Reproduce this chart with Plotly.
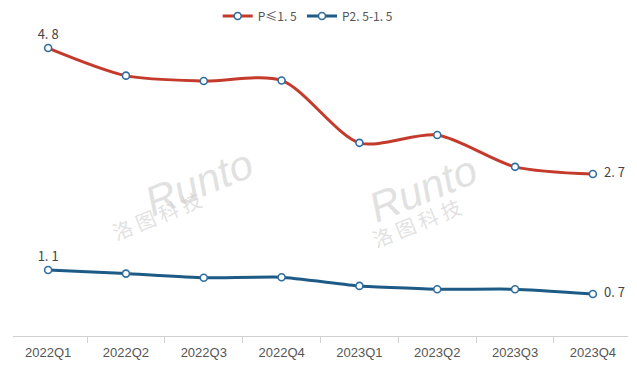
import plotly.graph_objects as go

categories = ["2022Q1", "2022Q2", "2022Q3", "2022Q4", "2023Q1", "2023Q2", "2023Q3", "2023Q4"]
series_a_name = "P≤1. 5"
series_a = [4.8, 4.34, 4.25, 4.26, 3.22, 3.35, 2.82, 2.7]
series_b_name = "P2. 5-1. 5"
series_b = [1.1, 1.04, 0.97, 0.98, 0.835, 0.78, 0.78, 0.7]

def end_labels(vals):
    out = []
    for i, v in enumerate(vals):
        s = f"{v:.1f}".replace(".", ". ")
        if i == 0:
            out.append(s)
        elif i == len(vals) - 1:
            out.append("  " + s)
        else:
            out.append("")
    return out

def positions(vals):
    return ["top center" if i == 0 else "middle right" for i in range(len(vals))]

marker_line = "#2f6d9e"
fig = go.Figure()
fig.add_trace(go.Scatter(
    x=categories, y=series_a, name=series_a_name, mode="lines+markers+text",
    line=dict(color="#c43b2c", width=3, shape="spline", smoothing=0.8),
    marker=dict(size=7, color="white", line=dict(color=marker_line, width=1.6)),
    text=end_labels(series_a), textposition=positions(series_a),
    textfont=dict(size=13, color="#444", family="Noto Sans CJK SC"),
    cliponaxis=False,
))
fig.add_trace(go.Scatter(
    x=categories, y=series_b, name=series_b_name, mode="lines+markers+text",
    line=dict(color="#1d5a86", width=3, shape="spline", smoothing=0.4),
    marker=dict(size=7, color="white", line=dict(color=marker_line, width=1.6)),
    text=end_labels(series_b), textposition=positions(series_b),
    textfont=dict(size=13, color="#444", family="Noto Sans CJK SC"),
    cliponaxis=False,
))

# watermarks
wm = "rgba(205,205,205,0.6)"
for (rx, ry, cx, cy) in [(0.2, 0.51, 0.15, 0.29), (0.77, 0.49, 0.74, 0.265)]:
    fig.add_annotation(xref="paper", yref="paper", x=rx, y=ry, text="<i>Runto</i>",
                       showarrow=False, textangle=-22,
                       font=dict(size=42, color=wm, family="Liberation Sans"))
    fig.add_annotation(xref="paper", yref="paper", x=cx, y=cy, text="洛 图 科 技",
                       showarrow=False, textangle=-22,
                       font=dict(size=20, color=wm, family="Noto Sans CJK SC"))

fig.update_layout(
    width=637, height=367,
    margin=dict(l=5, r=17, t=26, b=39),
    paper_bgcolor="white", plot_bgcolor="white",
    showlegend=True,
    legend=dict(orientation="h", x=0.48, xanchor="center",
                yref="container", y=0.978, yanchor="middle",
                font=dict(size=12, color="#555", family="Noto Sans CJK SC"),
                itemwidth=30, bgcolor="rgba(0,0,0,0)"),
    xaxis=dict(type="category", showgrid=False, showline=True, linecolor="#d0d0d0", linewidth=1,
               ticks="outside", tickson="boundaries", ticklen=6, tickcolor="#d0d0d0",
               ticklabelstandoff=4,
               tickfont=dict(size=13, color="#555", family="Liberation Sans"), zeroline=False),
    yaxis=dict(range=[0, 5.008], visible=False, showgrid=False, zeroline=False),
)

fig.write_html("out.html")
